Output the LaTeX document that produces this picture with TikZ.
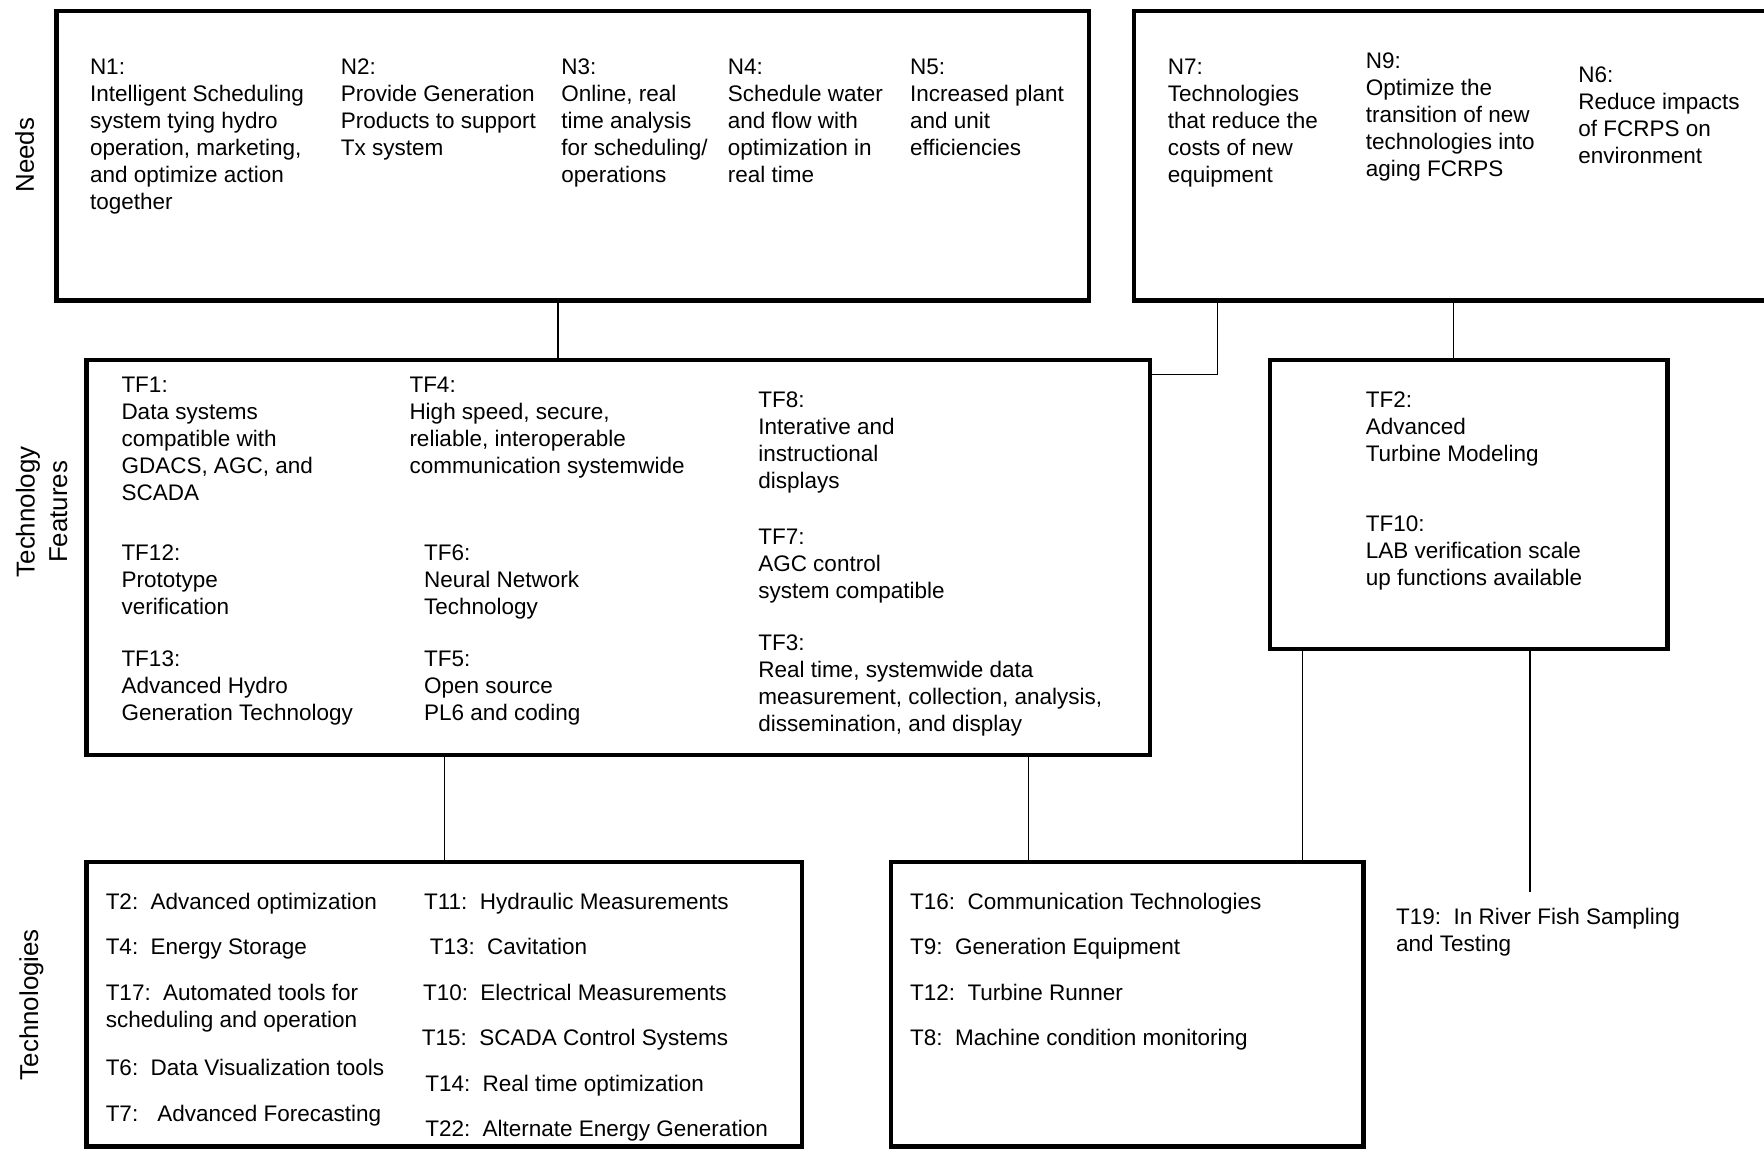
\documentclass[tikz,border=0pt]{standalone}
\usepackage{fontspec}
\setmainfont{Liberation Sans}
% item text: first line's baseline sits at the given point
\newcommand\itm[4]{\node[item] (#1) at (#2,#3) {\begin{tabular}[t]{@{}l@{}}#4\end{tabular}};}
\newcommand\gp{\hspace{0.55em}}
\begin{document}
\begin{tikzpicture}[x=0.5pt,y=-0.5pt,
  box/.style={draw=black,line width=2pt,rectangle,inner sep=0pt,outer sep=0pt,anchor=north west},
  link/.style={draw=black,line width=0.65pt},
  item/.style={anchor=base west,inner sep=0pt,outer sep=0pt,font=\fontsize{10}{12}\selectfont},
  side/.style={rotate=90,align=center,inner sep=0pt,font=\fontsize{11.5}{14.5}\selectfont}]
\useasboundingbox (0,0) rectangle (1568,1022);
\clip (0,0) rectangle (1568,1022);

% row labels
\node[side] (lneeds) at (22,138) {Needs};
\node[side] (lfeat) at (37,455) {Technology\\Features};
\node[side] (ltech) at (28,893) {Technologies};

% boxes
\node[box,minimum width=918*0.5pt,minimum height=257*0.5pt] (needsA) at (50,10) {};
\node[box,minimum width=600*0.5pt,minimum height=257*0.5pt] (needsB) at (1008,10) {};
\node[box,minimum width=945*0.5pt,minimum height=351*0.5pt] (tf) at (77,320) {};
\node[box,minimum width=353*0.5pt,minimum height=257*0.5pt] (tfb) at (1129,320) {};
\node[box,minimum width=636*0.5pt,minimum height=253*0.5pt] (techA) at (77,766) {};
\node[box,minimum width=420*0.5pt,minimum height=253*0.5pt] (techB) at (792,766) {};

% connectors
\coordinate (x1) at (496,0);
\coordinate (x2) at (1082,333);
\coordinate (x3) at (1292,0);
\coordinate (x4) at (395,0);
\coordinate (x5) at (914,0);
\coordinate (x6) at (1158,0);
\coordinate (x7) at (1360,793);
\draw[link] (needsA.south -| x1) -- (tf.north -| x1);
\draw[link] (needsB.south -| x2) |- (tf.east |- x2);
\draw[link] (needsB.south -| x3) -- (tfb.north -| x3);
\draw[link] (tf.south -| x4) -- (techA.north -| x4);
\draw[link] (tf.south -| x5) -- (techB.north -| x5);
\draw[link] (tfb.south -| x6) -- (techB.north -| x6);
\draw[link] (tfb.south -| x7) -- (x7);

% needs
\itm{n1}{80}{66}{N1:\\Intelligent Scheduling\\system tying hydro\\operation, marketing,\\and optimize action\\together}
\itm{n2}{303}{66}{N2:\\Provide Generation\\Products to support\\Tx system}
\itm{n3}{499}{66}{N3:\\Online, real\\time analysis\\for scheduling/\\operations}
\itm{n4}{647}{66}{N4:\\Schedule water\\and flow with\\optimization in\\real time}
\itm{n5}{809}{66}{N5:\\Increased plant\\and unit\\efficiencies}
\itm{n7}{1038}{66}{N7:\\Technologies\\that reduce the\\costs of new\\equipment}
\itm{n9}{1214}{61}{N9:\\Optimize the\\transition of new\\technologies into\\aging FCRPS}
\itm{n6}{1403}{73}{N6:\\Reduce impacts\\of FCRPS on\\environment}

% technology features
\itm{tf1}{108}{349}{TF1:\\Data systems\\compatible with\\GDACS, AGC, and\\SCADA}
\itm{tf4}{364}{349}{TF4:\\High speed, secure,\\reliable, interoperable\\communication systemwide}
\itm{tf8}{674}{362}{TF8:\\Interative and\\instructional\\displays}
\itm{tf12}{108}{498}{TF12:\\Prototype\\verification}
\itm{tf6}{377}{498}{TF6:\\Neural Network\\Technology}
\itm{tf7}{674}{484}{TF7:\\AGC control\\system compatible}
\itm{tf13}{108}{592}{TF13:\\Advanced Hydro\\Generation Technology}
\itm{tf5}{377}{592}{TF5:\\Open source\\PL6 and coding}
\itm{tf3}{674}{578}{TF3:\\Real time, systemwide data\\measurement, collection, analysis,\\dissemination, and display}
\itm{tf2}{1214}{362}{TF2:\\Advanced\\Turbine Modeling}
\itm{tf10}{1214}{472}{TF10:\\LAB verification scale\\up functions available}

% technologies
\itm{t2}{94}{808}{T2:\gp Advanced optimization}
\itm{t4}{94}{848}{T4:\gp Energy Storage}
\itm{t17}{94}{889}{T17:\gp Automated tools for\\scheduling and operation}
\itm{t6}{94}{956}{T6:\gp Data Visualization tools}
\itm{t7}{94}{997}{T7:\hspace{0.85em}Advanced Forecasting}
\itm{t11}{377}{808}{T11:\gp Hydraulic Measurements}
\itm{t13}{382}{848}{T13:\gp Cavitation}
\itm{t10}{376}{889}{T10:\gp Electrical Measurements}
\itm{t15}{375}{929}{T15:\gp SCADA Control Systems}
\itm{t14}{378}{970}{T14:\gp Real time optimization}
\itm{t22}{378}{1010}{T22:\gp Alternate Energy Generation}
\itm{t16}{809}{808}{T16:\gp Communication Technologies}
\itm{t9}{809}{848}{T9:\gp Generation Equipment}
\itm{t12}{809}{889}{T12:\gp Turbine Runner}
\itm{t8}{809}{929}{T8:\gp Machine condition monitoring}
\itm{t19}{1241}{822}{T19:\gp In River Fish Sampling\\and Testing}
\end{tikzpicture}
\end{document}
